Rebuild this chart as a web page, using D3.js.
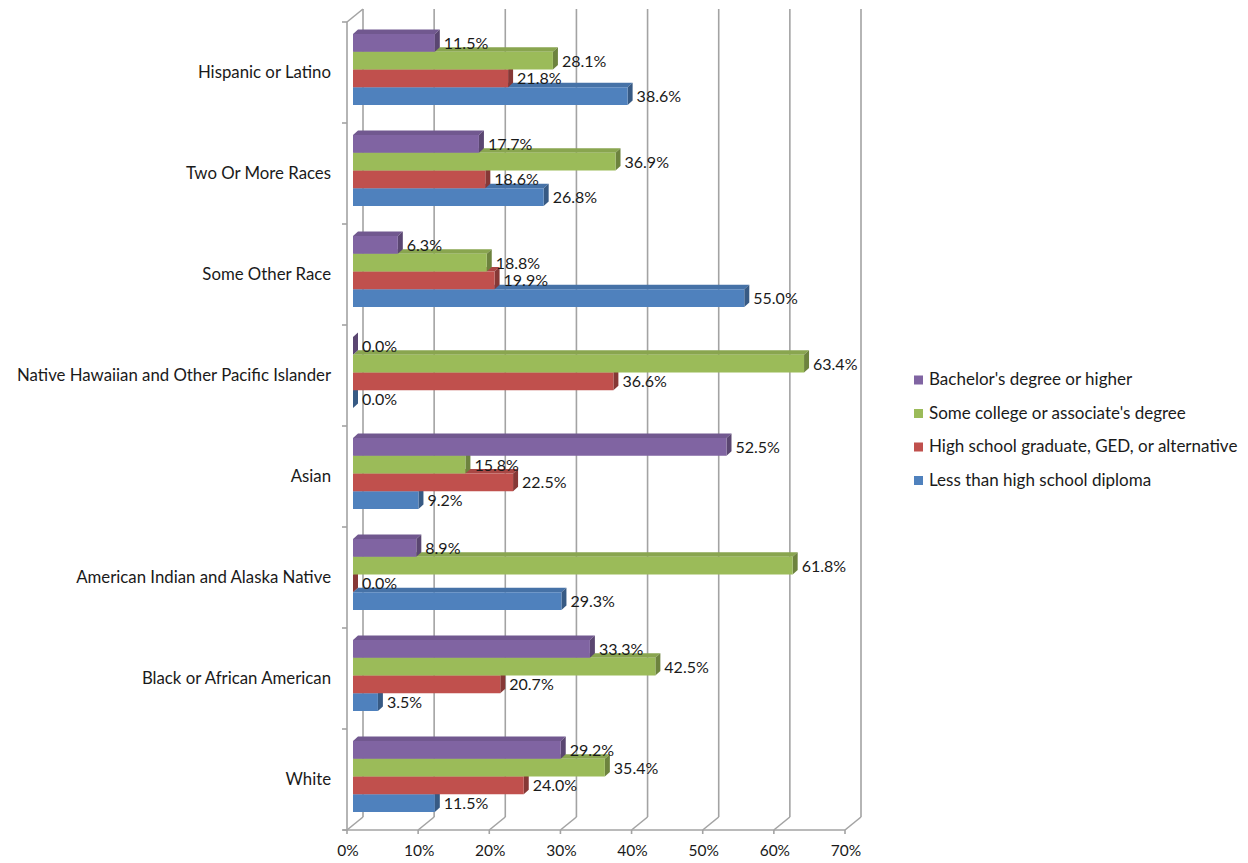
<!DOCTYPE html>
<html>
<head>
<meta charset="utf-8">
<script src="https://cdn.jsdelivr.net/npm/d3@7"></script>
<style>
  html, body { margin: 0; padding: 0; background: #fff; }
  svg { display: block; }
  text { font-family: Lato, "Open Sans", sans-serif; fill: #1a1a1a; }
</style>
</head>
<body>
<svg id="chart" width="1248" height="863"></svg>
<script>
// Educational attainment by race / ethnicity (percent of population)
const categories = [
  "Hispanic or Latino",
  "Two Or More Races",
  "Some Other Race",
  "Native Hawaiian and Other Pacific Islander",
  "Asian",
  "American Indian and Alaska Native",
  "Black or African American",
  "White"
];
const seriesNames = [
  "Bachelor's degree or higher",
  "Some college or associate's degree",
  "High school graduate, GED, or alternative",
  "Less than high school diploma"
];
const bachelor    = [11.5, 17.7, 6.3, 0.0, 52.5, 8.9, 33.3, 29.2];
const someCollege = [28.1, 36.9, 18.8, 63.4, 15.8, 61.8, 42.5, 35.4];
const highSchool  = [21.8, 18.6, 19.9, 36.6, 22.5, 0.0, 20.7, 24.0];
const lessThanHS  = [38.6, 26.8, 55.0, 0.0, 9.2, 29.3, 3.5, 11.5];
const tickValues  = [0, 10, 20, 30, 40, 50, 60, 70];
const colors = ["#8064A2", "#9BBB59", "#C0504D", "#4F81BD"];

const series = [bachelor, someCollege, highSchool, lessThanHS];

const svg = d3.select("#chart");

// Plot geometry (front plane of the floor / left wall)
const front = { left: 347, right: 845, top: 22, bottom: 830 };
const wallDepth = { dx: 16, dy: -13 };      // offset from front plane to back wall
const barShift = { dx: 6, dy: -3 };          // bars sit part way into the depth
const barDepth = { dx: 5, dy: -4.5 };        // thickness of each bar

const x = d3.scaleLinear().domain([0, 70]).range([front.left, front.right]);
const y = d3.scaleBand().domain(categories).range([front.top, front.bottom]);
const inner = d3.scaleBand().domain(d3.range(4)).range([0, 71]);

const grid = "#a3a3a3";
const labelSize = 16.8;

// Back wall gridlines
const g0 = svg.append("g");
g0.selectAll("line.grid")
  .data(tickValues)
  .join("line")
  .attr("x1", d => x(d) + wallDepth.dx).attr("x2", d => x(d) + wallDepth.dx)
  .attr("y1", front.top + wallDepth.dy).attr("y2", front.bottom + wallDepth.dy)
  .attr("stroke", grid).attr("stroke-width", 1.6);

// Floor diagonals
g0.selectAll("line.floor")
  .data(tickValues)
  .join("line")
  .attr("x1", d => x(d)).attr("y1", front.bottom)
  .attr("x2", d => x(d) + wallDepth.dx).attr("y2", front.bottom + wallDepth.dy)
  .attr("stroke", grid).attr("stroke-width", 1.6);

// Left wall top diagonal
g0.append("line")
  .attr("x1", front.left).attr("y1", front.top)
  .attr("x2", front.left + wallDepth.dx).attr("y2", front.top + wallDepth.dy)
  .attr("stroke", grid).attr("stroke-width", 1.6);

// Front axes
const axisG = svg.append("g");
axisG.append("line")
  .attr("x1", front.left).attr("x2", front.left)
  .attr("y1", front.top).attr("y2", front.bottom)
  .attr("stroke", grid).attr("stroke-width", 1.6);
axisG.append("line")
  .attr("x1", front.left - 4).attr("x2", front.right)
  .attr("y1", front.bottom).attr("y2", front.bottom)
  .attr("stroke", grid).attr("stroke-width", 1.6);

// Category ticks on vertical axis
const bounds = categories.map(c => y(c)).concat([front.bottom]);
axisG.selectAll("line.ytick")
  .data(bounds)
  .join("line")
  .attr("x1", front.left - 5).attr("x2", front.left)
  .attr("y1", d => d).attr("y2", d => d)
  .attr("stroke", grid).attr("stroke-width", 1.6);

// Value ticks on horizontal axis
axisG.selectAll("line.xtick")
  .data(tickValues)
  .join("line")
  .attr("x1", d => x(d)).attr("x2", d => x(d))
  .attr("y1", front.bottom).attr("y2", front.bottom + 4)
  .attr("stroke", grid).attr("stroke-width", 1.6);

axisG.selectAll("text.xlab")
  .data(tickValues)
  .join("text")
  .attr("x", d => x(d) + 1)
  .attr("y", front.bottom + 26)
  .attr("text-anchor", "middle")
  .attr("font-size", 15.5)
  .text(d => d + "%");

axisG.selectAll("text.ylab")
  .data(categories)
  .join("text")
  .attr("x", 331)
  .attr("y", d => y(d) + y.bandwidth() / 2 + 1)
  .attr("text-anchor", "end")
  .attr("dominant-baseline", "middle")
  .attr("font-size", labelSize)
  .text(d => d);

// 3D bars
const shade = (c, k) => d3.rgb(c).darker(k).formatHex();
const barsG = svg.append("g");
const labels = [];
categories.forEach((cat, ci) => {
  const groupTop = y(cat) + y.bandwidth() / 2 - 35.5 + barShift.dy;
  // draw bottom series first so upper bars cover the top faces beneath them
  for (let si = 3; si >= 0; si--) {
    const v = series[si][ci];
    const x0 = x(0) + barShift.dx;
    const x1 = x(v) + barShift.dx;
    const y0 = groupTop + inner(si);
    const h = inner.bandwidth();
    const c = colors[si];
    const g = barsG.append("g");
    // top face
    g.append("path")
      .attr("d", `M${x0},${y0} L${x0 + barDepth.dx},${y0 + barDepth.dy} L${x1 + barDepth.dx},${y0 + barDepth.dy} L${x1},${y0} Z`)
      .attr("fill", shade(c, 0.35));
    // right face
    g.append("path")
      .attr("d", `M${x1},${y0} L${x1 + barDepth.dx},${y0 + barDepth.dy} L${x1 + barDepth.dx},${y0 + h + barDepth.dy} L${x1},${y0 + h} Z`)
      .attr("fill", shade(c, 1.0));
    // front face
    g.append("rect")
      .attr("x", x0).attr("y", y0)
      .attr("width", Math.max(0, x1 - x0)).attr("height", h)
      .attr("fill", c);
    labels.push({ x: x1 + 9, y: y0 + h / 2 + 2, v });
  }
});

svg.append("g").selectAll("text")
  .data(labels)
  .join("text")
  .attr("x", d => d.x)
  .attr("y", d => d.y)
  .attr("dominant-baseline", "middle")
  .attr("font-size", 16)
  .text(d => d.v.toFixed(1) + "%");

// Legend
const legend = svg.append("g").attr("transform", "translate(914,380)");
const rows = legend.selectAll("g")
  .data(seriesNames)
  .join("g")
  .attr("transform", (d, i) => `translate(0,${i * 33.5})`);
rows.append("rect")
  .attr("x", 0).attr("y", -4.5).attr("width", 9).attr("height", 9)
  .attr("fill", (d, i) => colors[i]);
rows.append("text")
  .attr("x", 15).attr("y", 1)
  .attr("dominant-baseline", "middle")
  .attr("font-size", 17)
  .text(d => d);
</script>
</body>
</html>
